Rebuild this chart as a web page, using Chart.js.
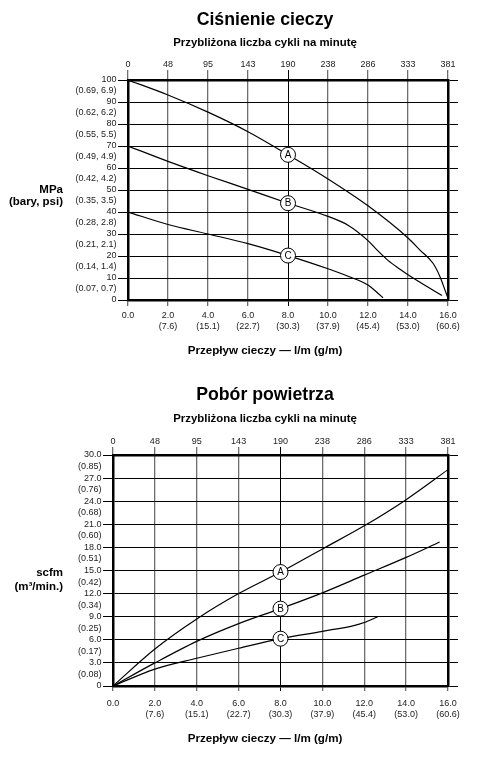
<!DOCTYPE html>
<html>
<head>
<meta charset="utf-8">
<script src="https://cdn.jsdelivr.net/npm/chart.js@4.4.1/dist/chart.umd.min.js"></script>
<style>
  body { margin: 0; background: #fff; }
  canvas { position: absolute; left: 0; }
  #pressure { top: 0; }
  #air { top: 370px; }
</style>
</head>
<body>
<canvas id="pressure" width="484" height="370"></canvas>
<canvas id="air" width="484" height="388"></canvas>
<script>
// --- osie wspólne ---
const flowLpm = ['0.0', '2.0', '4.0', '6.0', '8.0', '10.0', '12.0', '14.0', '16.0'];
const flowGpm = ['', '(7.6)', '(15.1)', '(22.7)', '(30.3)', '(37.9)', '(45.4)', '(53.0)', '(60.6)'];
const cyclesPerMin = ['0', '48', '95', '143', '190', '238', '286', '333', '381'];
const markerFlow = 8; // kółka A/B/C na tej wartości przepływu

// --- ciśnienie cieczy ---
const pressureMain = ['0', '10', '20', '30', '40', '50', '60', '70', '80', '90', '100'];
const pressureSub = ['(0.07, 0.7)', '(0.14, 1.4)', '(0.21, 2.1)', '(0.28, 2.8)', '(0.35, 3.5)',
                     '(0.42, 4.2)', '(0.49, 4.9)', '(0.55, 5.5)', '(0.62, 6.2)', '(0.69, 6.9)'];

const pressureFlowA = [0, 2, 4, 6, 8, 10, 12, 14, 14.6, 15.25, 15.6, 15.85, 16];
const pressureA     = [100, 93.2, 85.4, 76.5, 66, 55, 42.8, 28.2, 22.7, 16.7, 10.6, 4.5, 0.8];
const pressureFlowB = [0, 2, 4, 6, 8, 10, 11, 12, 12.5, 13, 13.6, 14, 15.7];
const pressureB     = [70, 63, 56.5, 50.3, 44, 38, 34, 27, 22.3, 18, 14, 11.5, 2];
const pressureFlowC = [0, 2, 4, 6, 8, 10, 11, 12, 12.4, 12.75];
const pressureC     = [40, 34.3, 30, 25.6, 20.2, 14.2, 10.8, 6.8, 3.9, 1];

// --- pobór powietrza ---
const airMain = ['0', '3.0', '6.0', '9.0', '12.0', '15.0', '18.0', '21.0', '24.0', '27.0', '30.0'];
const airSub = ['(0.08)', '(0.17)', '(0.25)', '(0.34)', '(0.42)', '(0.51)', '(0.60)', '(0.68)', '(0.76)', '(0.85)'];

const airFlowA = [0, 2, 4, 6, 8, 10, 12, 14, 16];
const airA     = [0, 4.8, 8.7, 12, 14.8, 17.8, 20.8, 24.2, 28.1];
const airFlowB = [0, 2, 4, 6, 8, 10, 12, 14, 15.6];
const airB     = [0, 3.0, 5.8, 8.1, 10.05, 12.1, 14.4, 16.7, 18.7];
const airFlowC = [0, 2, 4, 6, 8, 10, 11.5, 12, 12.65];
const airC     = [0, 2.2, 3.6, 4.9, 6.15, 7.1, 7.85, 8.25, 9.0];

const FONT = '"Liberation Sans", Arial, sans-serif';

const markerPlugin = {
  id: 'markers',
  afterDatasetsDraw(chart) {
    const ctx = chart.ctx;
    chart.data.datasets.forEach((ds, di) => {
      const idx = ds.data.findIndex(p => p.x === markerFlow);
      const pt = chart.getDatasetMeta(di).data[idx];
      if (!pt) return;
      ctx.save();
      ctx.beginPath();
      ctx.arc(pt.x, pt.y, 7.5, 0, Math.PI * 2);
      ctx.fillStyle = '#fff';
      ctx.fill();
      ctx.lineWidth = 1;
      ctx.strokeStyle = '#000';
      ctx.stroke();
      ctx.fillStyle = '#000';
      ctx.font = '10px ' + FONT;
      ctx.textAlign = 'center';
      ctx.textBaseline = 'middle';
      ctx.fillText(ds.label, pt.x, pt.y + 0.5);
      ctx.restore();
    });
  }
};

function textPlugin(texts) {
  return {
    id: 'sheetText',
    afterDraw(chart) {
      const ctx = chart.ctx;
      ctx.save();
      ctx.fillStyle = '#000';
      ctx.textBaseline = 'middle';
      texts.forEach(t => {
        ctx.font = 'bold ' + t.size + 'px ' + FONT;
        ctx.textAlign = t.align || 'center';
        ctx.fillText(t.text, t.x, t.y);
      });
      ctx.restore();
    }
  };
}

function buildChart(id, o) {
  const datasets = o.series.map(s => ({
    label: s.name,
    data: s.x.map((v, i) => ({ x: v, y: s.y[i] })),
    borderColor: '#000',
    borderWidth: 1.2,
    pointRadius: 0,
    fill: false,
    cubicInterpolationMode: 'monotone',
    xAxisID: 'x',
    yAxisID: 'y'
  }));
  const tickFont = { family: FONT, size: 9, lineHeight: 1.25 };
  const border = { display: true, color: '#000', width: 2.5 };
  const vColor = c => (c.tick && c.tick.value === markerFlow) ? '#000' : '#6e6e6e';
  const vWidth = c => (c.tick && c.tick.value === markerFlow) ? 1 : 1.3;
  const hColor = c => (c.tick && Math.round(c.tick.value / o.yStep) % 2 === 0) ? '#000' : 'rgba(0,0,0,0)';
  const yMax = o.yStep * 20;

  return new Chart(document.getElementById(id), {
    type: 'line',
    data: { datasets },
    options: {
      responsive: false,
      animation: false,
      layout: { padding: 0 },
      plugins: { legend: { display: false }, tooltip: { enabled: false } },
      scales: {
        x: {
          type: 'linear', position: 'bottom', min: 0, max: 16,
          ticks: {
            stepSize: 2, padding: o.xPad, color: '#222', font: tickFont, maxRotation: 0, autoSkip: false,
            callback: v => { const i = Math.round(v / 2); return i === 0 ? flowLpm[0] : [flowLpm[i], flowGpm[i]]; }
          },
          grid: { color: vColor, lineWidth: vWidth, tickColor: vColor, tickLength: o.xTick },
          border,
          afterFit: s => { s.height = o.bottomH; }
        },
        xTop: {
          type: 'linear', position: 'top', min: 0, max: 16,
          ticks: {
            stepSize: 2, padding: 0, color: '#222', font: tickFont, maxRotation: 0, autoSkip: false,
            callback: v => cyclesPerMin[Math.round(v / 2)]
          },
          grid: { drawOnChartArea: false, color: vColor, lineWidth: vWidth, tickLength: o.topTick },
          border,
          afterFit: s => { s.height = o.topH; }
        },
        y: {
          type: 'linear', position: 'left', min: 0, max: yMax,
          ticks: {
            stepSize: o.yStep, padding: 1.5, color: '#222', font: tickFont, autoSkip: false,
            callback: v => {
              const i = Math.round(v / o.yStep);
              return i % 2 === 0 ? o.yMain[i / 2] : o.ySub[(i - 1) / 2];
            }
          },
          grid: { color: hColor, tickColor: hColor, lineWidth: 1, tickLength: 10 },
          border,
          afterFit: s => { s.width = o.leftW; }
        },
        yRight: {
          type: 'linear', position: 'right', min: 0, max: yMax,
          ticks: { stepSize: o.yStep * 2, display: false },
          grid: { drawOnChartArea: false, color: '#000', lineWidth: 1, tickLength: 10 },
          border,
          afterFit: s => { s.width = 36; }
        }
      }
    },
    plugins: [markerPlugin, textPlugin(o.texts)]
  });
}

buildChart('pressure', {
  series: [
    { name: 'A', x: pressureFlowA, y: pressureA },
    { name: 'B', x: pressureFlowB, y: pressureB },
    { name: 'C', x: pressureFlowC, y: pressureC }
  ],
  yStep: 5, yMain: pressureMain, ySub: pressureSub,
  topH: 80, bottomH: 70, leftW: 128, topTick: 10, xTick: 6, xPad: 3.4,
  texts: [
    { text: 'Ciśnienie cieczy', x: 265, y: 20, size: 17.7 },
    { text: 'Przybliżona liczba cykli na minutę', x: 265, y: 43, size: 11.4 },
    { text: 'Przepływ cieczy — l/m (g/m)', x: 265, y: 351, size: 11.6 },
    { text: 'MPa', x: 63, y: 190, size: 11.5, align: 'right' },
    { text: '(bary, psi)', x: 63, y: 202, size: 11.5, align: 'right' }
  ]
});

buildChart('air', {
  series: [
    { name: 'A', x: airFlowA, y: airA },
    { name: 'B', x: airFlowB, y: airB },
    { name: 'C', x: airFlowC, y: airC }
  ],
  yStep: 1.5, yMain: airMain, ySub: airSub,
  topH: 85, bottomH: 72, leftW: 113, topTick: 8, xTick: 5, xPad: 6.5,
  texts: [
    { text: 'Pobór powietrza', x: 265, y: 25, size: 17.7 },
    { text: 'Przybliżona liczba cykli na minutę', x: 265, y: 49, size: 11.4 },
    { text: 'Przepływ cieczy — l/m (g/m)', x: 265, y: 369, size: 11.6 },
    { text: 'scfm', x: 63, y: 203, size: 11.5, align: 'right' },
    { text: '(m³/min.)', x: 63, y: 217, size: 11.5, align: 'right' }
  ]
});
</script>
</body>
</html>
